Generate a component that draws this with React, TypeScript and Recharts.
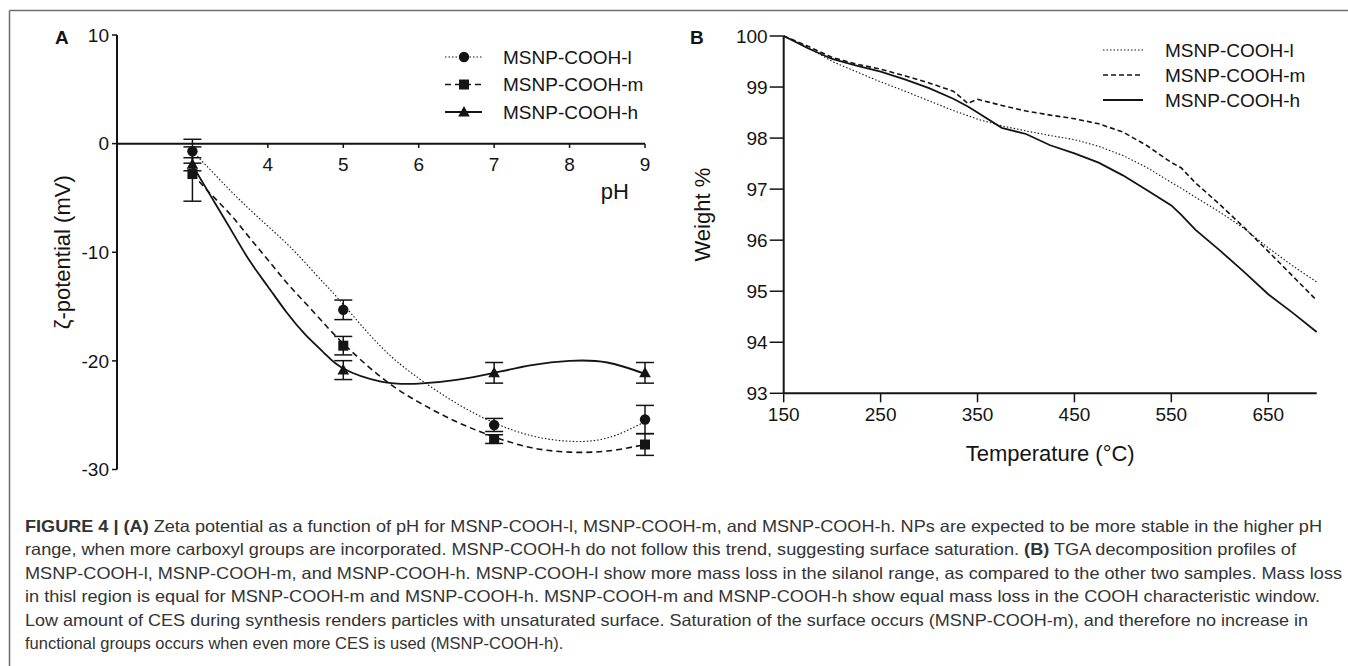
import {
  ComposedChart,
  LineChart,
  Line,
  Scatter,
  ErrorBar,
  XAxis,
  YAxis,
  ReferenceLine,
  ReferenceDot,
  Legend,
} from "recharts";

const FONT = "'Liberation Sans', Arial, Helvetica, sans-serif";
const INK = "#141414";

// ---- Panel A: zeta potential vs pH ----
const phValues = [3, 5, 7, 9];
const zetaL = [-0.7, -15.3, -25.9, -25.4];
const errL = [1.1, 0.9, 0.6, 1.3];
const zetaM = [-2.8, -18.6, -27.2, -27.7];
const errM = [2.5, 0.85, 0.4, 1.0];
const zetaH = [-1.9, -20.85, -21.1, -21.1];
const errH = [0.6, 0.87, 0.95, 0.95];

// fitted curves
const fitPh = [3, 3.25, 3.5, 3.75, 4, 4.25, 4.5, 4.75, 5, 5.5, 6, 6.5, 7, 7.5, 8, 8.5, 9];
const fitL = [-0.7, -2.5, -4.3, -6.0, -7.6, -9.2, -11.0, -12.9, -14.8, -18.7, -21.6, -23.9, -25.7, -26.9, -27.4, -27.1, -25.6];
const fitM = [-2.8, -4.7, -6.5, -8.6, -10.7, -12.8, -14.7, -16.6, -18.4, -21.5, -23.8, -25.6, -27.0, -28.0, -28.4, -28.3, -27.7];
const fitH = [-2.0, -4.9, -7.8, -10.7, -13.15, -15.55, -17.6, -19.3, -20.7, -21.9, -22.1, -21.75, -21.1, -20.4, -20.0, -20.15, -21.2];

const phTicks = [4, 5, 6, 7, 8, 9];
const zetaTicks = [-30, -20, -10, 0, 10];

// ---- Panel B: TGA ----
const temps = [150, 175, 200, 225, 250, 275, 300, 325, 340, 350, 375, 400, 425, 450, 475, 500, 525, 550, 560, 575, 600, 625, 650, 675, 700];
const weightL = [100, 99.78, 99.5, 99.3, 99.1, 98.92, 98.73, 98.54, 98.44, 98.37, 98.24, 98.14, 98.05, 97.97, 97.84, 97.66, 97.42, 97.13, 97.02, 96.84, 96.55, 96.23, 95.85, 95.5, 95.18];
const weightM = [100, 99.8, 99.58, 99.45, 99.35, 99.22, 99.08, 98.92, 98.68, 98.76, 98.64, 98.53, 98.45, 98.38, 98.28, 98.12, 97.85, 97.52, 97.42, 97.12, 96.7, 96.25, 95.78, 95.3, 94.82];
const weightH = [100, 99.76, 99.55, 99.42, 99.3, 99.15, 98.98, 98.77, 98.62, 98.5, 98.2, 98.08, 97.86, 97.7, 97.52, 97.27, 96.98, 96.68, 96.5, 96.2, 95.8, 95.38, 94.94, 94.58, 94.2];
const tempTicks = [150, 250, 350, 450, 550, 650];
const weightTicks = [93, 94, 95, 96, 97, 98, 99, 100];

const seriesNames = ["MSNP-COOH-l", "MSNP-COOH-m", "MSNP-COOH-h"];

const captionLines = [
  { bold: "FIGURE 4 | (A)", text: " Zeta potential as a function of pH for MSNP-COOH-l, MSNP-COOH-m, and MSNP-COOH-h. NPs are expected to be more stable in the higher pH", end: 1322 },
  { pre: "range, when more carboxyl groups are incorporated. MSNP-COOH-h do not follow this trend, suggesting surface saturation. ", bold: "(B)", text: " TGA decomposition profiles of", end: 1296 },
  { text: "MSNP-COOH-l, MSNP-COOH-m, and MSNP-COOH-h. MSNP-COOH-l show more mass loss in the silanol range, as compared to the other two samples. Mass loss", end: 1342 },
  { text: "in thisl region is equal for MSNP-COOH-m and MSNP-COOH-h. MSNP-COOH-m and MSNP-COOH-h show equal mass loss in the COOH characteristic window.", end: 1320 },
  { text: "Low amount of CES during synthesis renders particles with unsaturated surface. Saturation of the surface occurs (MSNP-COOH-m), and therefore no increase in", end: 1308 },
  { text: "functional groups occurs when even more CES is used (MSNP-COOH-h).", end: 0 },
];

const styles = [
  { dash: "1.5 2", width: 1.1, shape: "circle" },
  { dash: "6 4", width: 1.6, shape: "square" },
  { dash: undefined, width: 1.8, shape: "triangle" },
];

const toRows = (vals: number[], errs: number[]) =>
  phValues.map((ph, i) => ({ ph, zeta: vals[i], err: errs[i] }));
const toFit = (vals: number[]) => fitPh.map((ph, i) => ({ ph, zeta: vals[i] }));

const pointsA = [toRows(zetaL, errL), toRows(zetaM, errM), toRows(zetaH, errH)];
const fitsA = [toFit(fitL), toFit(fitM), toFit(fitH)];
const tgaData = temps.map((t, i) => ({ t, l: weightL[i], m: weightM[i], h: weightH[i] }));

function Marker({ kind, cx, cy }: { kind: string; cx: number; cy: number }) {
  if (kind === "circle") return <circle cx={cx} cy={cy} r={5.2} fill={INK} />;
  if (kind === "square") return <rect x={cx - 5} y={cy - 5} width={10} height={10} fill={INK} />;
  return <polygon points={`${cx},${cy - 6} ${cx - 5.8},${cy + 4.5} ${cx + 5.8},${cy + 4.5}`} fill={INK} />;
}

function LegendA() {
  return (
    <svg width={220} height={85}>
      {seriesNames.map((name, i) => {
        const y = 14 + i * 27.5;
        return (
          <g key={name}>
            <line x1={5} x2={42} y1={y} y2={y} stroke={INK} strokeWidth={styles[i].width} strokeDasharray={styles[i].dash} />
            <Marker kind={styles[i].shape} cx={24} cy={y} />
            <text x={63} y={y} dominantBaseline="central" fontSize={19} fontFamily={FONT} fill={INK}>
              {name}
            </text>
          </g>
        );
      })}
    </svg>
  );
}

function LegendB() {
  return (
    <svg width={230} height={75}>
      {seriesNames.map((name, i) => {
        const y = 12 + i * 25;
        return (
          <g key={name}>
            <line x1={3} x2={43} y1={y} y2={y} stroke={INK} strokeWidth={styles[i].width} strokeDasharray={i === 1 ? "5 3" : styles[i].dash} />
            <text x={65} y={y} dominantBaseline="central" fontSize={19} fontFamily={FONT} fill={INK}>
              {name}
            </text>
          </g>
        );
      })}
    </svg>
  );
}

const tickStyle = { fill: INK, fontSize: 19, fontFamily: FONT };

export default function App() {
  return (
    <div style={{ position: "absolute", left: 0, top: 0, width: 1348, height: 666, background: "#fff", overflow: "hidden" }}>
      <svg width={1348} height={666} style={{ position: "absolute", left: 0, top: 0 }}>
        <line x1={9.5} y1={10.5} x2={1348} y2={10.5} stroke="#6e6e6e" strokeWidth={1.5} />
        <line x1={9.5} y1={10.5} x2={9.5} y2={666} stroke="#6e6e6e" strokeWidth={1.5} />
        <text x={55} y={44} fontSize={19} fontWeight="bold" fontFamily={FONT} fill={INK}>A</text>
        <text x={690} y={44} fontSize={19} fontWeight="bold" fontFamily={FONT} fill={INK}>B</text>
        {captionLines.map((ln, i) => (
          <text
            key={i}
            x={25}
            y={532 + i * 23.4}
            fontSize={16.5}
            fontFamily={FONT}
            fill="#333"
            textLength={ln.end ? ln.end - 25 : undefined}
            lengthAdjust={ln.end ? "spacingAndGlyphs" : undefined}
          >
            {ln.pre}
            {ln.bold && <tspan fontWeight="bold">{ln.bold}</tspan>}
            {ln.text}
          </text>
        ))}
      </svg>

      <div style={{ position: "absolute", left: 0, top: 0 }}>
        <ComposedChart width={660} height={490} margin={{ top: 35, right: 15, bottom: 20.5, left: 20 }}>
          <XAxis type="number" dataKey="ph" domain={[2, 9]} hide />
          <YAxis
            type="number"
            domain={[-30, 10]}
            ticks={zetaTicks}
            width={97}
            tickSize={5}
            tickMargin={3}
            tick={tickStyle}
            axisLine={{ stroke: INK, strokeWidth: 2 }}
            tickLine={{ stroke: INK, strokeWidth: 1.5 }}
            label={{ value: "ζ-potential (mV)", angle: -90, position: "insideLeft", offset: 42, fontSize: 22, fontFamily: FONT, fill: INK, style: { textAnchor: "middle" } }}
          />
          <ReferenceLine y={0} stroke={INK} strokeWidth={2} />
          {phTicks.map((t) => (
            <ReferenceLine
              key={t}
              segment={[{ x: t, y: 0 }, { x: t, y: -0.4 }]}
              stroke={INK}
              strokeWidth={1.5}
              label={{ value: String(t), position: "bottom", offset: 10, fontSize: 19, fontFamily: FONT, fill: INK }}
            />
          ))}
          <ReferenceDot x={8.6} y={-4.4} r={0} label={{ value: "pH", position: "center", fontSize: 22, fontFamily: FONT, fill: INK }} />
          {fitsA.map((d, i) => (
            <Line
              key={"fit" + i}
              data={d}
              dataKey="zeta"
              type="natural"
              stroke={INK}
              strokeWidth={styles[i].width}
              strokeDasharray={styles[i].dash}
              dot={false}
              activeDot={false}
              isAnimationActive={false}
              legendType="none"
            />
          ))}
          {pointsA.map((d, i) => (
            <Scatter
              key={"pts" + i}
              name={seriesNames[i]}
              data={d}
              dataKey="zeta"
              isAnimationActive={false}
              shape={(p: any) => <Marker kind={styles[i].shape} cx={p.cx} cy={p.cy} />}
            >
              <ErrorBar dataKey="err" direction="y" width={9} stroke={INK} strokeWidth={1.5} />
            </Scatter>
          ))}
          <Legend
            layout="vertical"
            align="center"
            verticalAlign="middle"
            content={<LegendA />}
            wrapperStyle={{ left: 440, top: 43, width: 220, height: 85 }}
          />
        </ComposedChart>
      </div>

      <div style={{ position: "absolute", left: 660, top: 0 }}>
        <LineChart width={688} height={490} data={tgaData} margin={{ top: 36, right: 31.3, bottom: 26.7, left: 20 }}>
          <XAxis
            type="number"
            dataKey="t"
            domain={[150, 700]}
            ticks={tempTicks}
            height={70}
            tickSize={9}
            tickMargin={5}
            tick={tickStyle}
            axisLine={{ stroke: INK, strokeWidth: 2 }}
            tickLine={{ stroke: INK, strokeWidth: 1.5 }}
            label={{ value: "Temperature (°C)", position: "insideBottom", offset: 2, fontSize: 22, fontFamily: FONT, fill: INK }}
          />
          <YAxis
            type="number"
            domain={[93, 100]}
            ticks={weightTicks}
            width={103.7}
            tickSize={14}
            tickMargin={2}
            tick={tickStyle}
            axisLine={{ stroke: INK, strokeWidth: 2 }}
            tickLine={{ stroke: INK, strokeWidth: 1.5 }}
            label={{ value: "Weight %", angle: -90, position: "insideLeft", offset: 22, fontSize: 22, fontFamily: FONT, fill: INK, style: { textAnchor: "middle" } }}
          />
          <Line dataKey="l" name={seriesNames[0]} type="linear" stroke={INK} strokeWidth={1.1} strokeDasharray="1.5 2" dot={false} isAnimationActive={false} />
          <Line dataKey="m" name={seriesNames[1]} type="linear" stroke={INK} strokeWidth={1.6} strokeDasharray="5 3" dot={false} isAnimationActive={false} />
          <Line dataKey="h" name={seriesNames[2]} type="linear" stroke={INK} strokeWidth={1.8} dot={false} isAnimationActive={false} />
          <Legend
            layout="vertical"
            align="center"
            verticalAlign="middle"
            content={<LegendB />}
            wrapperStyle={{ left: 440, top: 38, width: 230, height: 75 }}
          />
        </LineChart>
      </div>
    </div>
  );
}
